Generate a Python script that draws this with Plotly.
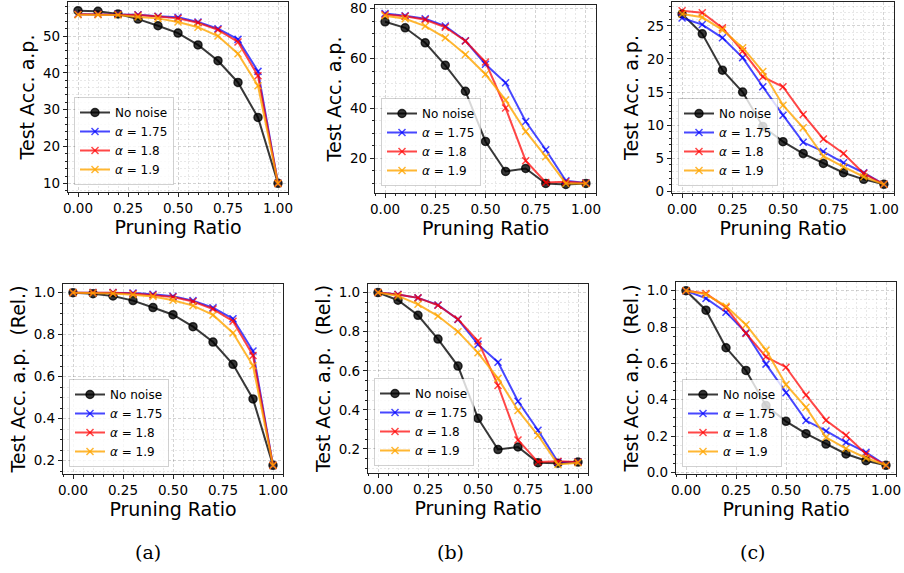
import plotly.graph_objects as go

W, H = 904, 573
ratio = [0.0, 0.1, 0.2, 0.3, 0.4, 0.5, 0.6, 0.7, 0.8, 0.9, 1.0]
names = ["No noise", "<i>α</i> = 1.75", "<i>α</i> = 1.8", "<i>α</i> = 1.9"]

# (a) absolute
a_none = [56.9, 56.7, 56.0, 54.6, 52.8, 50.8, 47.6, 43.3, 37.4, 27.9, 10.0]
a_175 = [55.9, 55.9, 56.0, 55.8, 55.4, 55.1, 53.8, 52.0, 49.1, 40.4, 10.0]
a_18 = [55.9, 55.9, 55.9, 55.7, 55.3, 54.8, 53.6, 51.7, 48.4, 39.2, 10.0]
a_19 = [55.8, 55.8, 55.7, 55.2, 54.8, 53.8, 52.4, 50.0, 45.2, 36.5, 10.0]
# (b) absolute
b_none = [74.7, 72.3, 66.3, 57.3, 46.9, 26.8, 14.8, 16.0, 10.0, 9.6, 10.0]
b_175 = [78.0, 77.1, 75.9, 73.0, 67.1, 57.7, 50.3, 34.8, 23.5, 11.1, 10.2]
b_18 = [77.6, 76.9, 75.5, 72.5, 67.0, 58.6, 40.2, 19.1, 10.4, 10.7, 10.2]
b_19 = [77.1, 75.9, 73.0, 68.3, 61.6, 53.7, 43.4, 30.8, 20.7, 10.0, 10.0]
# (c) absolute
c_none = [26.8, 23.8, 18.3, 15.0, 9.8, 7.5, 5.7, 4.2, 2.8, 1.8, 1.05]
c_175 = [26.2, 25.2, 23.2, 20.2, 15.8, 11.5, 7.4, 6.0, 4.3, 2.8, 1.05]
c_18 = [27.3, 27.0, 24.7, 21.2, 17.3, 15.8, 11.6, 7.9, 5.7, 2.7, 1.05]
c_19 = [26.8, 26.3, 24.4, 21.7, 18.1, 13.0, 9.6, 5.3, 3.7, 2.2, 1.05]
# (a) relative
ar_none = [1.0, 0.995, 0.984, 0.962, 0.929, 0.895, 0.838, 0.765, 0.659, 0.494, 0.178]
ar_175 = [1.0, 1.0, 1.0, 0.998, 0.992, 0.983, 0.962, 0.928, 0.876, 0.722, 0.178]
ar_18 = [1.0, 1.0, 1.0, 0.996, 0.989, 0.979, 0.958, 0.922, 0.864, 0.701, 0.178]
ar_19 = [1.0, 0.998, 0.996, 0.990, 0.982, 0.964, 0.938, 0.894, 0.808, 0.652, 0.178]
# (b) relative
br_none = [1.0, 0.961, 0.884, 0.762, 0.624, 0.357, 0.197, 0.210, 0.130, 0.127, 0.133]
br_175 = [1.0, 0.990, 0.973, 0.937, 0.863, 0.735, 0.644, 0.444, 0.296, 0.133, 0.133]
br_18 = [1.0, 0.990, 0.973, 0.935, 0.864, 0.752, 0.525, 0.246, 0.133, 0.137, 0.133]
br_19 = [1.0, 0.983, 0.940, 0.880, 0.800, 0.692, 0.561, 0.397, 0.270, 0.121, 0.130]
# (c) relative
cr_none = [1.0, 0.893, 0.686, 0.561, 0.368, 0.281, 0.213, 0.156, 0.101, 0.064, 0.039]
cr_175 = [1.0, 0.958, 0.882, 0.768, 0.596, 0.438, 0.285, 0.228, 0.165, 0.110, 0.039]
cr_18 = [1.0, 0.985, 0.908, 0.765, 0.636, 0.579, 0.426, 0.287, 0.204, 0.101, 0.039]
cr_19 = [1.0, 0.980, 0.915, 0.813, 0.673, 0.483, 0.358, 0.193, 0.131, 0.079, 0.039]

abs_title = "Test Acc. a.p."
rel_title = "Test Acc. a.p.\u00a0 (Rel.)"
panels = [
    dict(data=[a_none, a_175, a_18, a_19], box=(68, 288, 2, 192), ytitle=abs_title, dtick=10, minor=2),
    dict(data=[b_none, b_175, b_18, b_19], box=(375, 596, 5, 193), ytitle=abs_title, dtick=20, minor=5),
    dict(data=[c_none, c_175, c_18, c_19], box=(672, 894, 2, 193), ytitle=abs_title, dtick=5, minor=1),
    dict(data=[ar_none, ar_175, ar_18, ar_19], box=(63, 283, 284, 474), ytitle=rel_title, dtick=0.2, minor=0.05),
    dict(data=[br_none, br_175, br_18, br_19], box=(368, 588, 284, 473), ytitle=rel_title, dtick=0.2, minor=0.05),
    dict(data=[cr_none, cr_175, cr_18, cr_19], box=(676, 896, 282, 474), ytitle=rel_title, dtick=0.2, minor=0.05),
]

colors = ["rgba(0,0,0,0.78)", "rgba(0,0,255,0.72)", "rgba(255,0,0,0.72)", "rgba(255,165,0,0.8)"]
symbols = ["circle", "x-thin", "x-thin", "x-thin"]
msizes = [8, 7, 7, 7]

fig = go.Figure()
layout = dict(
    width=W, height=H, margin=dict(l=0, r=0, t=0, b=0, autoexpand=False),
    paper_bgcolor="white", plot_bgcolor="white", showlegend=True,
    font=dict(family="DejaVu Sans", color="black"),
)
tickfont = dict(family="DejaVu Sans", size=13.5, color="black")
titlefont = dict(family="DejaVu Sans", size=19, color="black")

for i, p in enumerate(panels):
    n = i + 1
    xa = "x" if n == 1 else f"x{n}"
    ya = "y" if n == 1 else f"y{n}"
    lg = "legend" if n == 1 else f"legend{n}"
    x0, x1, y0, y1 = p["box"]
    allv = [v for s in p["data"] for v in s]
    lo, hi = min(allv), max(allv)
    pad = (hi - lo) * 0.05
    for k in range(4):
        fig.add_trace(go.Scatter(
            x=ratio, y=p["data"][k], name=names[k], mode="lines+markers",
            xaxis=xa, yaxis=ya, legend=lg,
            line=dict(color=colors[k], width=2),
            marker=dict(symbol=symbols[k], size=msizes[k], color=colors[k],
                        line=dict(color=colors[k], width=1.5)),
        ))
    common = dict(
        showline=True, linecolor="#222", linewidth=1.2, mirror=True,
        ticks="outside", ticklen=4, tickwidth=1, tickcolor="#222",
        showgrid=True, gridcolor="rgba(0,0,0,0.17)", gridwidth=1, griddash="3px,2px",
        zeroline=False, tickfont=tickfont, automargin=False, ticklabeloverflow="allow",
    )
    minor_common = dict(ticks="outside", ticklen=2, tickcolor="#222", showgrid=True,
                        gridcolor="rgba(0,0,0,0.09)", griddash="2px,2px", gridwidth=1)
    layout["xaxis" if n == 1 else f"xaxis{n}"] = dict(
        common, domain=[x0 / W, x1 / W], anchor=ya, range=[-0.05, 1.05],
        tickmode="linear", tick0=0, dtick=0.25, tickformat=".2f",
        minor=dict(minor_common, dtick=0.05, tick0=0),
        title=dict(text="Pruning Ratio", font=titlefont, standoff=1),
    )
    layout["yaxis" if n == 1 else f"yaxis{n}"] = dict(
        common, domain=[1 - y1 / H, 1 - y0 / H], anchor=xa, range=[lo - pad, hi + pad],
        tickmode="linear", tick0=0, dtick=p["dtick"],
        tickformat=".1f" if p["dtick"] < 1 else "d",
        minor=dict(minor_common, dtick=p["minor"], tick0=0),
        title=dict(text=p["ytitle"], font=titlefont, standoff=3),
    )
    layout[lg] = dict(
        x=(x0 + 6) / W, y=1 - (y1 - 7) / H, xanchor="left", yanchor="bottom",
        bgcolor="rgba(255,255,255,0.8)", bordercolor="rgba(0,0,0,0.18)", borderwidth=1,
        font=dict(family="DejaVu Sans", size=12, color="black"),
        tracegroupgap=0, itemwidth=30,
    )

caps = [("(a)", 148), ("(b)", 450), ("(c)", 752)]
annotations = [dict(text=t, x=cx / W, y=1 - 552 / H, xref="paper", yref="paper",
                    xanchor="center", yanchor="middle",
                    showarrow=False, font=dict(family="DejaVu Serif", size=19, color="black"))
               for t, cx in caps]
layout["annotations"] = annotations
fig.update_layout(**layout)
fig.write_html("out.html", config={"displayModeBar": False},
               post_script="document.body.style.margin='0';document.body.style.padding='0';")
